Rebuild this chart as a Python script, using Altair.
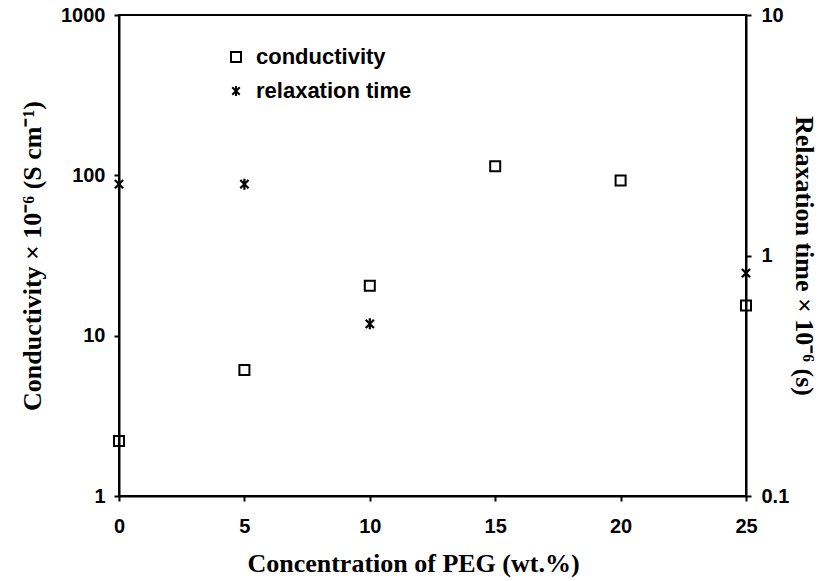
import altair as alt
import pandas as pd

# Data
peg_conductivity = [0, 5, 10, 15, 20, 25]
conductivity = [2.2, 6.1, 20.5, 114, 93, 15.4]
peg_relaxation = [0, 5, 10, 25]
relaxation = [1.98, 1.98, 0.52, 0.845]
series_names = ["conductivity", "relaxation time"]
x_ticks = [0, 5, 10, 15, 20, 25]
left_ticks = [1, 10, 100, 1000]
right_ticks = [0.1, 1, 10]

cond_df = pd.DataFrame({"peg": peg_conductivity, "value": conductivity,
                        "series": series_names[0]})
rel_df = pd.DataFrame({"peg": peg_relaxation, "value": relaxation,
                       "series": series_names[1]})

star = "M-0.75,-0.75L0.75,0.75M-0.75,0.75L0.75,-0.75M0,-1L0,1"
shape_scale = alt.Scale(domain=series_names, range=["square", star])

x_enc = alt.X("peg:Q",
              scale=alt.Scale(domain=[0, 25], nice=False, zero=False),
              axis=alt.Axis(values=x_ticks, title="Concentration of PEG (wt.%)",
                            labelPadding=15, labelFlush=False,
                            titleX=294, titleY=75,
                            titleBaseline="alphabetic", titleAlign="center"))

cond = alt.Chart(cond_df).mark_point(filled=False, stroke="black",
                                      strokeWidth=2, size=100, opacity=1, clip=False).encode(
    x=x_enc,
    y=alt.Y("value:Q",
            scale=alt.Scale(type="log", domain=[1, 1000], nice=False),
            axis=alt.Axis(values=left_ticks, format="d", orient="left",
                          title="Conductivity × 10⁻⁶ (S cm⁻¹)",
                          titleX=-87, titleBaseline="middle",
                          labelPadding=9, labelFlush=False)),
    shape=alt.Shape("series:N", scale=shape_scale,
                    legend=alt.Legend(title=None, orient="none", legendX=106, legendY=31,
                                      labelFont="Liberation Sans", labelFontSize=22,
                                      labelFontWeight="bold", labelColor="black",
                                      symbolStrokeColor="black", symbolStrokeWidth=2,
                                      symbolSize=100, symbolFillColor="transparent",
                                      rowPadding=12, labelOffset=9)),
)

rel = alt.Chart(rel_df).mark_point(filled=False, stroke="black",
                                    strokeWidth=2.2, size=120, opacity=1, clip=False).encode(
    x=x_enc,
    y=alt.Y("value:Q",
            scale=alt.Scale(type="log", domain=[0.1, 10], nice=False),
            axis=alt.Axis(values=right_ticks, orient="right",
                          labelExpr="datum.value < 1 ? '0.1' : format(datum.value, 'd')",
                          title="Relaxation time × 10⁻⁶ (s)",
                          titleX=57, titleBaseline="middle",
                          labelPadding=10, labelFlush=False)),
    shape=alt.Shape("series:N", scale=shape_scale),
)

chart = alt.layer(cond, rel).resolve_scale(y="independent").properties(
    width=627, height=481,
    autosize=alt.AutoSizeParams(type="none"),
    padding={"left": 119, "top": 15, "right": 77, "bottom": 85},
    background="white",
).configure_view(
    stroke="black", strokeWidth=2
).configure_axis(
    grid=False,
    domainColor="black", domainWidth=2,
    tickColor="black", tickWidth=2, tickSize=5,
    labelFont="Liberation Sans", labelFontSize=20, labelFontWeight="bold",
    labelColor="black",
    titleFont="Liberation Serif", titleFontSize=26, titleFontWeight="bold",
    titleColor="black",
)

chart.save("out.html", embed_options={"renderer": "svg", "actions": False})
